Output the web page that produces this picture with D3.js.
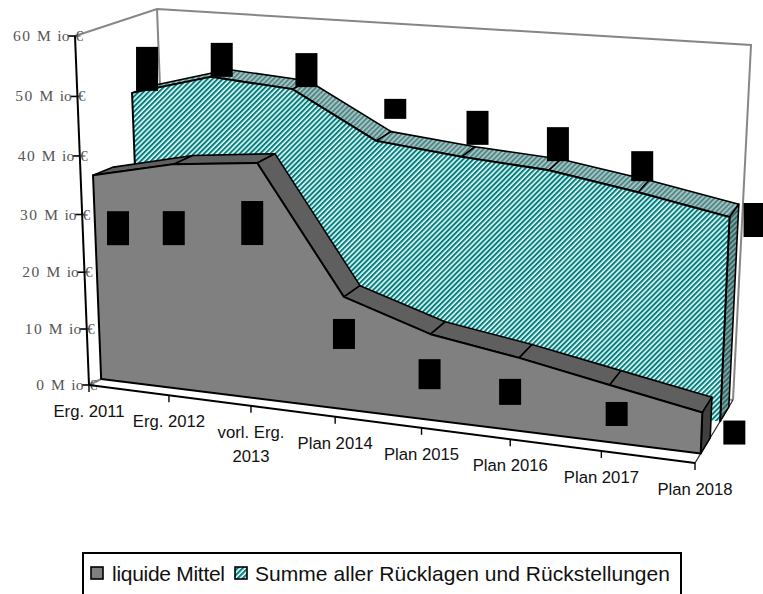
<!DOCTYPE html>
<html>
<head>
<meta charset="utf-8">
<script src="https://cdn.jsdelivr.net/npm/d3@7"></script>
<style>
  html, body { margin: 0; padding: 0; background: #fff; overflow: hidden; }
  svg { display: block; }
</style>
</head>
<body>
<div id="chart"></div>
<script>
var categories = ['Erg. 2011', 'Erg. 2012', 'vorl. Erg. 2013', 'Plan 2014', 'Plan 2015', 'Plan 2016', 'Plan 2017', 'Plan 2018']
var liquideMittel = [35.9, 39.2, 40.8, 19.6, 14.9, 12.6, 9.8, 7]
var summeRuecklagen = [47.3, 51.1, 50.1, 42.5, 41, 40, 37.6, 34.8]
var valueTicks = [0, 10, 20, 30, 40, 50, 60]
var seriesNames = ['liquide Mittel', 'Summe aller Rücklagen und Rückstellungen']

var w = 763
var h = 594

// box corners of the 3d plot as seen on screen
var frontBL = [89, 385], frontBR = [695, 463], frontTL = [75, 36], frontTR = [709, 95]
var backBL = [170, 345], backBR = [733, 400], backTL = [157, 9], backTR = [751, 45]

var xScale = d3.scaleLinear().domain([0, categories.length - 1]).range([0, 1])
var yScale = d3.scaleLinear().domain([0, 60]).range([0, 1])

// perspective squeeze along the two plane axes
function warp (t, a) { return a * t / (1 + (a - 1) * t) }

function mix (p, q, t) { return [p[0] + (q[0] - p[0]) * t, p[1] + (q[1] - p[1]) * t] }

function project (i, value, z) {
  var u = warp(xScale(i), 0.912)
  var v = warp(yScale(value), 0.955)
  var bottom = mix(mix(frontBL, frontBR, u), mix(backBL, backBR, u), z)
  var top = mix(mix(frontTL, frontTR, u), mix(backTL, backTR, u), z)
  return mix(bottom, top, v)
}

var line = d3.line()

var svg = d3.select('#chart').append('svg')
    .attr('width', w)
    .attr('height', h)
    .style('font-family', '"Liberation Sans", Arial, sans-serif')

var defs = svg.append('defs')
function stripes (id, a, b) {
  var p = defs.append('pattern')
      .attr('id', id)
      .attr('patternUnits', 'userSpaceOnUse')
      .attr('width', 3.6)
      .attr('height', 3.6)
      .attr('patternTransform', 'rotate(-45)')
  p.append('rect').attr('width', 3.6).attr('height', 3.6).attr('fill', a)
  p.append('rect').attr('width', 3.6).attr('height', 2).attr('fill', b)
}
stripes('hatch', '#eef8f7', '#008080')
stripes('hatchTop', '#b6c6c6', '#4a8a89')
stripes('hatchSide', '#93a5a5', '#2a6a69')

// walls
var wall = svg.append('g').attr('fill', 'none').attr('stroke', '#868686').attr('stroke-width', 2)
wall.append('path').attr('d', line([frontTL, backTL, backTR, backBR]))
wall.append('path').attr('d', line([backTL, backBL]))
wall.append('path').attr('d', line([frontBL, backBL]))
wall.append('path').attr('d', line([backBL, backBR]))
svg.append('path')
    .attr('d', line([frontBR, backBR]))
    .attr('stroke', '#222').attr('stroke-width', 1.2).attr('fill', 'none')

var grayZ = [0.15, 0.4]
var tealZ = [0.66, 0.89]

function drawArea (values, z, fill, topFill, sideFill, bottomEdge) {
  var g = svg.append('g').attr('stroke', '#000').attr('stroke-linejoin', 'round')
  var last = values.length - 1

  // top faces first so the front face sits over them
  d3.range(last).forEach(function (i) {
    g.append('path')
        .attr('d', line([project(i, values[i], z[0]), project(i + 1, values[i + 1], z[0]),
          project(i + 1, values[i + 1], z[1]), project(i, values[i], z[1])]) + 'Z')
        .attr('fill', topFill)
        .attr('stroke-width', 1.6)
  })

  g.append('path')
      .attr('d', line([project(last, values[last], z[0]), project(last, values[last], z[1]),
        project(last, 0, z[1]), project(last, 0, z[0])]) + 'Z')
      .attr('fill', sideFill)
      .attr('stroke-width', 1.6)

  var front = values.map(function (d, i) { return project(i, d, z[0]) })
  front.push(project(last, 0, z[0]), project(0, 0, z[0]))
  g.append('path')
      .attr('d', line(front) + 'Z')
      .attr('fill', fill)
      .attr('stroke', 'none')
  // the rücklagen face has no visible line along the floor
  var outline = bottomEdge ? line(front) + 'Z'
    : line([project(0, 0, z[0])].concat(front.slice(0, values.length), [project(last, 0, z[0])]))
  g.append('path')
      .attr('d', outline)
      .attr('fill', 'none')
      .attr('stroke-width', 2)
}

drawArea(summeRuecklagen, tealZ, 'url(#hatch)', 'url(#hatchTop)', 'url(#hatchSide)', false)
drawArea(liquideMittel, grayZ, '#808080', '#5f5f5f', '#404040', true)

// value axis
var axis = svg.append('g')
axis.append('path')
    .attr('d', line([project(0, 0, 0), project(0, 60, 0)]))
    .attr('stroke', '#000').attr('stroke-width', 2).attr('fill', 'none')

var tick = axis.selectAll('g.vtick').data(valueTicks).enter().append('g')
    .attr('class', 'vtick')
    .attr('transform', function (d) {
      var p = project(0, d, 0)
      return 'translate(' + p[0] + ',' + p[1] + ')'
    })
tick.append('line').attr('x1', -7).attr('x2', 2).attr('stroke', '#000').attr('stroke-width', 1.6)
tick.append('text')
    .text(function (d) { return d + ' Mio €' })
    .attr('x', 8)
    .attr('dy', 5)
    .attr('dx', function (d) { return d < 10 ? '0 0 3.25 6.5 0 0 2' : '0 1.5 0 3.25 6.5 0 0 2' })
    .attr('text-anchor', 'end')
    .attr('fill', '#555')
    .style('font-family', '"Liberation Serif", serif')
    .style('font-size', '15.5px')

// category axis
axis.append('path')
    .attr('d', line([project(0, 0, 0), project(categories.length - 1, 0, 0)]))
    .attr('stroke', '#000').attr('stroke-width', 2).attr('fill', 'none')

var ctick = axis.selectAll('g.ctick').data(categories).enter().append('g')
    .attr('class', 'ctick')
    .attr('transform', function (d, i) {
      var p = project(i, 0, 0)
      return 'translate(' + p[0] + ',' + p[1] + ')'
    })
ctick.append('line').attr('y2', 7).attr('stroke', '#000').attr('stroke-width', 1.4)
ctick.each(function (d) {
  var lines = d === 'vorl. Erg. 2013' ? ['vorl. Erg.', '2013'] : [d]
  d3.select(this).selectAll('text').data(lines).enter().append('text')
      .text(function (t) { return t })
      .attr('y', function (t, k) { return 32 + k * 24 })
      .attr('text-anchor', 'middle')
      .attr('fill', '#111')
      .style('font-size', '16.7px')
})

// label boxes, nudged off the point they belong to: dx, dy, height
var boxW = 22
var liquideBoxes = [[25, 53, 34], [0, 64, 34], [-5, 60, 44], [0, 37, 30], [-1, 40, 30], [-9, 34, 26], [7, 29, 24], [32, 20, 24]]
var summeBoxes = [[15, -24, 44], [11, -17, 34], [14, -19, 34], [19, -32, 20], [16, -29, 34], [9, -26, 34], [4, -26, 30], [25, 3, 34]]

function drawBoxes (values, z, boxes) {
  svg.append('g').selectAll('rect').data(values).enter().append('rect')
      .attr('x', function (d, i) { return project(i, d, z)[0] + boxes[i][0] - boxW / 2 })
      .attr('y', function (d, i) { return project(i, d, z)[1] + boxes[i][1] - boxes[i][2] / 2 })
      .attr('width', boxW)
      .attr('height', function (d, i) { return boxes[i][2] })
      .attr('fill', '#000')
}
drawBoxes(liquideMittel, grayZ[0], liquideBoxes)
drawBoxes(summeRuecklagen, tealZ[0], summeBoxes)

// legend
var legend = svg.append('g')
legend.append('rect')
    .attr('x', 83).attr('y', 553).attr('width', 598).attr('height', 60)
    .attr('fill', '#fff').attr('stroke', '#000').attr('stroke-width', 2)
legend.append('rect').attr('x', 91).attr('y', 567).attr('width', 12).attr('height', 12)
    .attr('fill', '#808080').attr('stroke', '#000').attr('stroke-width', 1.6)
legend.append('rect').attr('x', 235).attr('y', 567).attr('width', 12).attr('height', 12)
    .attr('fill', 'url(#hatch)').attr('stroke', '#000').attr('stroke-width', 1.6)
legend.append('text').text(seriesNames[0]).attr('x', 112).attr('y', 581)
    .attr('textLength', 113)
    .style('font-size', '21px').attr('fill', '#111')
legend.append('text').text(seriesNames[1]).attr('x', 255).attr('y', 581)
    .attr('textLength', 415)
    .style('font-size', '21px').attr('fill', '#111')
</script>
</body>
</html>
